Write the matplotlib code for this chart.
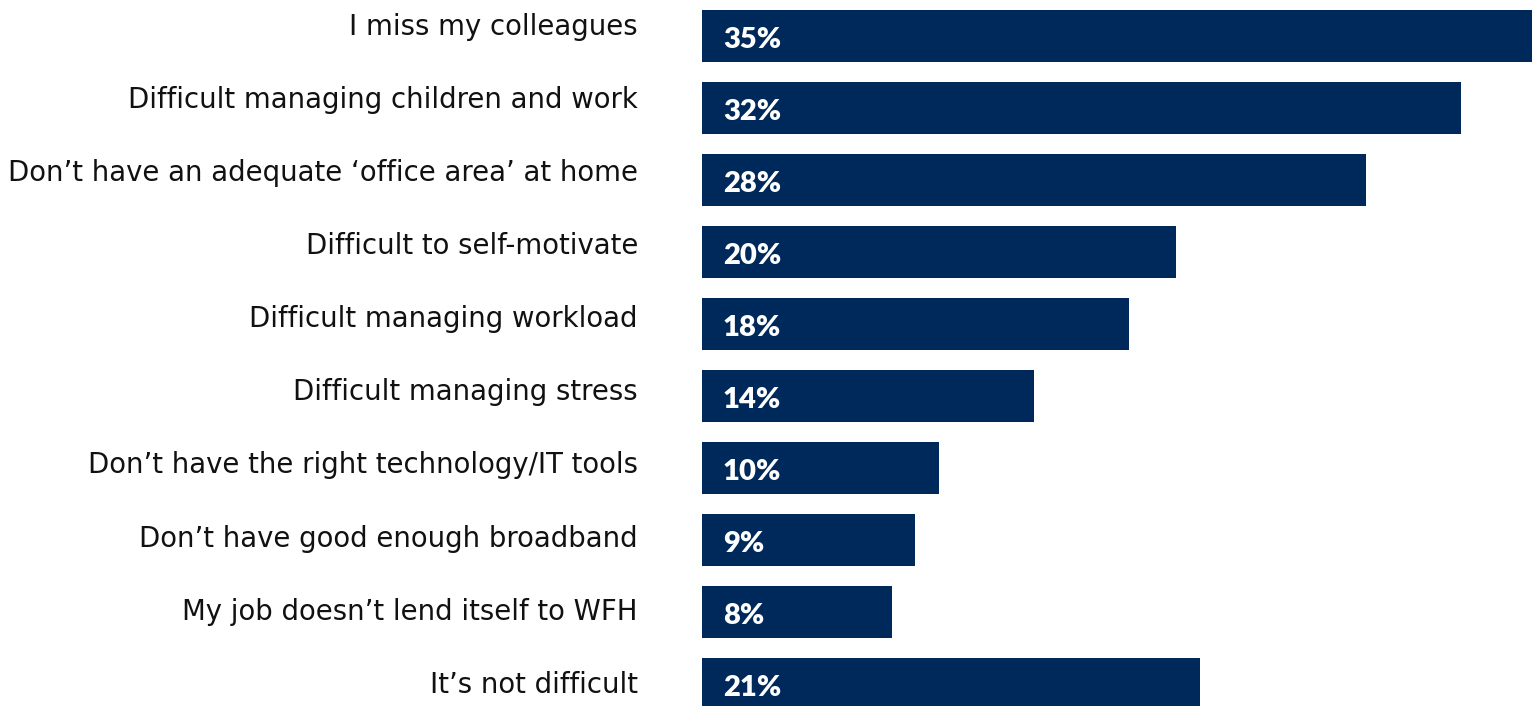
import matplotlib
matplotlib.use("Agg")
import matplotlib.pyplot as plt

# Reasons working from home is difficult (% of respondents)
reasons = [
    "I miss my colleagues",
    "Difficult managing children and work",
    "Don\u2019t have an adequate \u2018office area\u2019 at home",
    "Difficult to self-motivate",
    "Difficult managing workload",
    "Difficult managing stress",
    "Don\u2019t have the right technology/IT tools",
    "Don\u2019t have good enough broadband",
    "My job doesn\u2019t lend itself to WFH",
    "It\u2019s not difficult",
]
shares = [35, 32, 28, 20, 18, 14, 10, 9, 8, 21]

navy = "#00295B"

fig = plt.figure(figsize=(15.32, 7.06), dpi=100)
ax = fig.add_axes([702 / 1532, 0, 830 / 1532, 1])

pos = list(range(len(reasons)))
ax.barh(pos, shares, height=0.722, color=navy)

ax.set_xlim(0, 35)
ax.set_ylim(9.306, -0.5)
ax.axis("off")

for y, name, v in zip(pos, reasons, shares):
    # category text sits on a slightly wider pitch than the bars
    ax.text(-2.7, y * 1.015 - 0.014, name, ha="right", va="baseline",
            fontsize=19.8, family="DejaVu Sans", color="#111111")
    ax.annotate(f"{v}%", xy=(0, y), xytext=(15, -2.8), textcoords="offset points",
                ha="left", va="center", fontsize=21, fontweight="heavy",
                family="Lato", color="white")

fig.savefig("out.png", dpi=100)
